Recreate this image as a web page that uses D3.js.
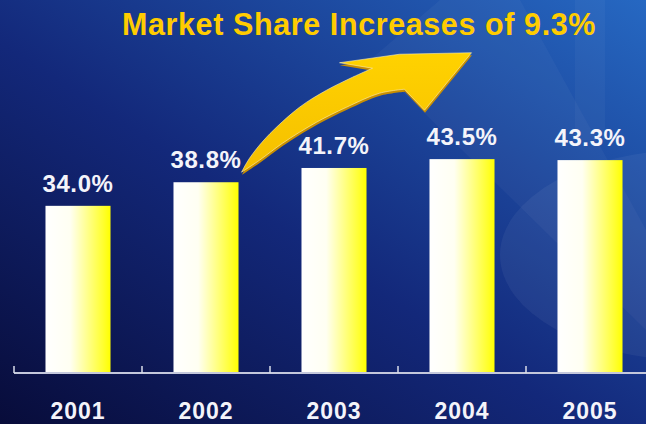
<!DOCTYPE html>
<html>
<head>
<meta charset="utf-8">
<script src="https://cdn.jsdelivr.net/npm/d3@7"></script>
<style>
  html, body { margin: 0; padding: 0; background: #0e1a5c; }
  svg { display: block; }
</style>
</head>
<body>
<div id="chart"></div>
<script>
var WIDTH = 646, HEIGHT = 424;

// chart data
var years = ["2001", "2002", "2003", "2004", "2005"];
var share = [34.0, 38.8, 41.7, 43.5, 43.3];
var title = "Market Share Increases of 9.3%";

var svg = d3.select("#chart")
			.append("svg")
			.attr("width", WIDTH)
			.attr("height", HEIGHT);

var defs = svg.append("defs");

var bg = defs.append("linearGradient")
			.attr("id", "bgGrad")
			.attr("x1", 0).attr("y1", 1)
			.attr("x2", 1).attr("y2", 0);
bg.append("stop").attr("offset", "0%").attr("stop-color", "#080c3a");
bg.append("stop").attr("offset", "45%").attr("stop-color", "#13287a");
bg.append("stop").attr("offset", "100%").attr("stop-color", "#2668c2");

var barGrad = defs.append("linearGradient")
			.attr("id", "barGrad")
			.attr("x1", 0).attr("y1", 0)
			.attr("x2", 1).attr("y2", 0);
barGrad.append("stop").attr("offset", "0%").attr("stop-color", "#ffffff");
barGrad.append("stop").attr("offset", "38%").attr("stop-color", "#fffff2");
barGrad.append("stop").attr("offset", "90%").attr("stop-color", "#ffff2a");
barGrad.append("stop").attr("offset", "100%").attr("stop-color", "#ffff00");

var arrowGrad = defs.append("linearGradient")
			.attr("id", "arrowGrad")
			.attr("x1", 0).attr("y1", 0)
			.attr("x2", 0).attr("y2", 1);
arrowGrad.append("stop").attr("offset", "0%").attr("stop-color", "#ffd200");
arrowGrad.append("stop").attr("offset", "100%").attr("stop-color", "#f5bf00");

// background
svg.append("rect")
	.attr("width", WIDTH).attr("height", HEIGHT)
	.attr("fill", "url(#bgGrad)");

svg.append("polygon")
	.attr("points", "370,60 440,0 520,0 646,230 646,330")
	.attr("fill", "#ffffff")
	.attr("opacity", 0.035);

svg.append("ellipse")
	.attr("cx", 690).attr("cy", 255)
	.attr("rx", 190).attr("ry", 105)
	.attr("fill", "#ffffff")
	.attr("opacity", 0.05);

svg.append("rect")
	.attr("x", 575).attr("y", 0)
	.attr("width", 30).attr("height", 140)
	.attr("fill", "#ffffff")
	.attr("opacity", 0.035);

// scales
var x = d3.scaleBand()
			.domain(years)
			.range([14, 654])
			.paddingInner(0.492)
			.paddingOuter(0.246);

var y = d3.scaleLinear()
			.domain([0, 60])
			.range([373, 78]);

var fmt = function(v) { return d3.format(".1f")(v) + "%"; };

// bars
svg.selectAll("rect.bar")
	.data(years)
	.enter().append("rect")
	.attr("class", "bar")
	.attr("x", function(d) { return x(d); })
	.attr("y", function(d, i) { return y(share[i]); })
	.attr("width", x.bandwidth())
	.attr("height", function(d, i) { return y(0) - y(share[i]); })
	.attr("fill", "url(#barGrad)");

// axis line and ticks at band boundaries
var half = x.step() * x.paddingInner() / 2;
svg.append("line")
	.attr("x1", x(years[0]) - half).attr("x2", WIDTH)
	.attr("y1", y(0)).attr("y2", y(0))
	.style("stroke", "#c4c8dc")
	.style("stroke-width", 2);

svg.selectAll("line.tick")
	.data(years)
	.enter().append("line")
	.attr("class", "tick")
	.attr("x1", function(d) { return x(d) - half; })
	.attr("x2", function(d) { return x(d) - half; })
	.attr("y1", y(0) - 7).attr("y2", y(0))
	.style("stroke", "#d8dcea")
	.style("stroke-width", 1.5);

// value labels
svg.selectAll("text.val")
	.data(years)
	.enter().append("text")
	.attr("class", "val")
	.attr("x", function(d) { return x(d) + x.bandwidth() / 2; })
	.attr("y", function(d, i) { return y(share[i]) - 14; })
	.attr("text-anchor", "middle")
	.style("font-family", "'Liberation Sans', Arial, sans-serif")
	.style("font-weight", "bold")
	.style("font-size", "24px")
	.style("letter-spacing", "0.6px")
	.style("fill", "#f4f4fa")
	.text(function(d, i) { return fmt(share[i]); });

// category labels
svg.selectAll("text.year")
	.data(years)
	.enter().append("text")
	.attr("class", "year")
	.attr("x", function(d) { return x(d) + x.bandwidth() / 2; })
	.attr("y", 419)
	.attr("text-anchor", "middle")
	.style("font-family", "'Liberation Sans', Arial, sans-serif")
	.style("font-weight", "bold")
	.style("font-size", "23px")
	.style("letter-spacing", "1px")
	.style("fill", "#f4f4fa")
	.text(function(d) { return d; });

// title
svg.append("text")
	.attr("x", 122)
	.attr("y", 35)
	.style("font-family", "'Liberation Sans', Arial, sans-serif")
	.style("font-weight", "bold")
	.style("font-size", "30.5px")
	.style("letter-spacing", "0.6px")
	.style("fill", "#ffcc00")
	.text(title);

// curved arrow, anchored at the 2002 bar corner
var ax = x("2002") + x.bandwidth() + 3;
var ay = y(share[1]) - 10;

var upperEdge = [[0, 0], [8, -14], [25, -35], [58, -65], [85, -82], [111, -95], [131, -104]];
var lowerEdge = [[163, -83], [138, -79], [105, -65], [75, -50], [41, -29], [18, -12], [0, 0]];
var head = [[98, -109.5], [158, -118], [230, -119.5], [183, -62]];

var smooth = d3.line().curve(d3.curveCatmullRom.alpha(0.5));
function arrowPath(dx, dy)
{
	var sh = function(p) { return [p[0] + ax + dx, p[1] + ay + dy]; };
	var d = smooth(upperEdge.map(sh));
	head.forEach(function(p) { var q = sh(p); d += "L" + q[0] + "," + q[1]; });
	d += "L" + sh(lowerEdge[0]).join(",");
	d += smooth(lowerEdge.map(sh)).replace(/^M/, "L");
	return d + "Z";
}

svg.append("path")
	.attr("d", arrowPath(0.5, 2.5))
	.attr("fill", "#c98f00");

svg.append("path")
	.attr("d", arrowPath(0, 0))
	.attr("fill", "url(#arrowGrad)")
	.style("stroke", "#fff4c0")
	.style("stroke-width", 0.8)
	.style("stroke-opacity", 0.7);
</script>
</body>
</html>
